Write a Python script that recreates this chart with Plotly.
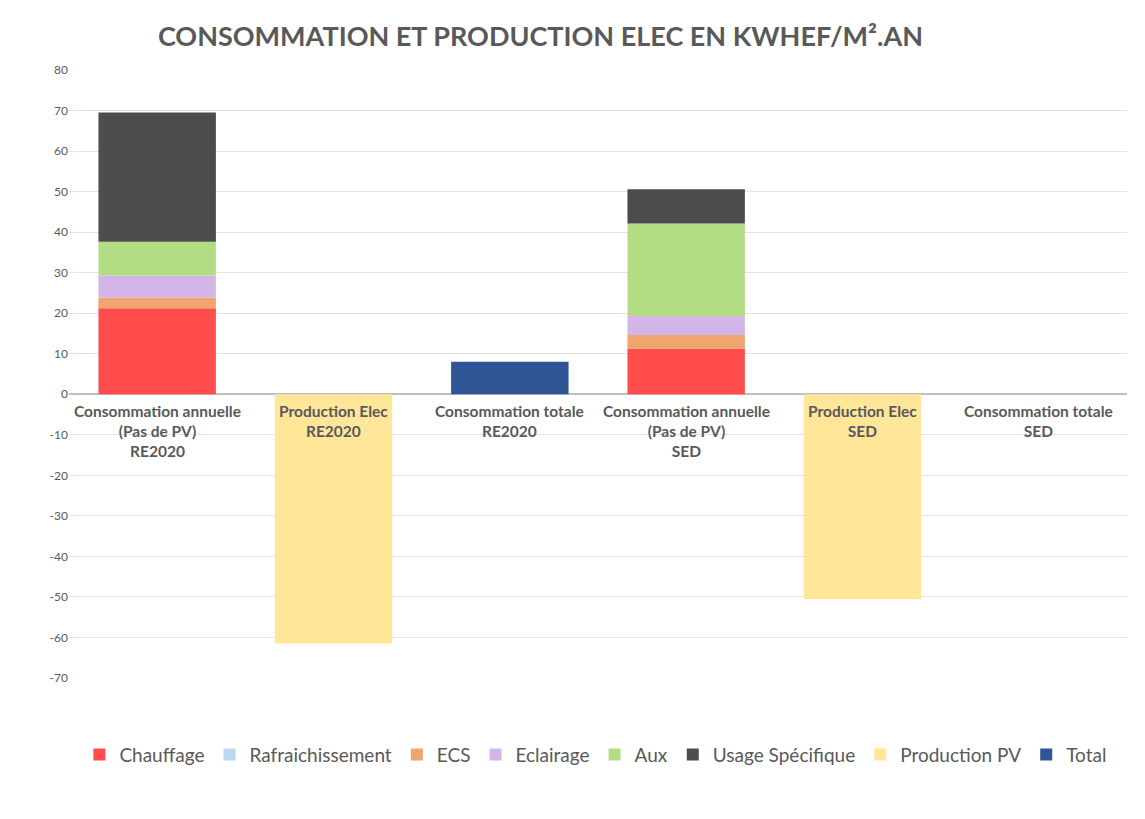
import plotly.graph_objects as go

categories = [
    "Consommation annuelle<br>(Pas de PV)<br>RE2020",
    "Production Elec<br>RE2020",
    "Consommation totale<br>RE2020",
    "Consommation annuelle<br>(Pas de PV)<br>SED",
    "Production Elec<br>SED",
    "Consommation totale<br>SED",
]
series_names = ["Chauffage", "Rafraichissement", "ECS", "Eclairage", "Aux",
                "Usage Spécifique", "Production PV", "Total"]
chauffage = [21.2, None, None, 11.3, None, None]
rafraichissement = [None, None, None, None, None, None]
ecs = [2.7, None, None, 3.3, None, None]
eclairage = [5.4, None, None, 4.7, None, None]
aux = [8.3, None, None, 22.8, None, None]
usage_specifique = [31.9, None, None, 8.5, None, None]
production_pv = [None, -61.5, None, None, -50.6, None]
total = [None, None, 8.0, None, None, 0.0]
y_ticks = [-70, -60, -50, -40, -30, -20, -10, 0, 10, 20, 30, 40, 50, 60, 70, 80]

values = [chauffage, rafraichissement, ecs, eclairage, aux, usage_specifique, production_pv, total]
colors = ["#ff4d4d", "#bdd7ee", "#f0a46e", "#d3b5e7", "#b3dd85", "#4d4d4d", "#ffe699", "#2f5597"]

FONT = "Lato, 'Open Sans', sans-serif"
GREY = "#595959"

fig = go.Figure()
for name, vals, col in zip(series_names, values, colors):
    fig.add_trace(go.Bar(
        x=list(range(len(categories))), y=vals, name=name,
        marker=dict(color=col, line=dict(width=0)),
    ))

for i, cat in enumerate(categories):
    fig.add_annotation(
        x=i, y=0, xref="x", yref="y", text="<b>" + cat + "</b>",
        showarrow=False, yanchor="top", yshift=-6,
        font=dict(family=FONT, size=15.5, color=GREY), align="center",
    )

fig.update_layout(
    barmode="relative",
    bargap=0.334,
    width=1145, height=819,
    margin=dict(l=69, r=18, t=70, b=141),
    paper_bgcolor="white", plot_bgcolor="white",
    font=dict(family=FONT, color=GREY),
    title=dict(
        text="<b>CONSOMMATION ET PRODUCTION ELEC EN KWHEF/M².AN</b>",
        x=0.472, xanchor="center", y=0.955, yanchor="middle",
        font=dict(family=FONT, size=27, color=GREY),
    ),
    legend=dict(
        orientation="h", x=0.498, xanchor="center", y=-0.095, yanchor="top",
        font=dict(family=FONT, size=19, color=GREY),
        itemwidth=30, tracegroupgap=0,
    ),
    showlegend=True,
)
fig.update_xaxes(
    range=[-0.5, len(categories) - 0.5], showticklabels=False, showgrid=False,
    zeroline=False, showline=False, ticks="",
)
fig.update_yaxes(
    range=[-70, 80], tickvals=y_ticks, ticktext=[str(v) for v in y_ticks],
    showgrid=True, gridcolor="#e3e3e3", gridwidth=1,
    zeroline=True, zerolinecolor="#bfbfbf", zerolinewidth=1.5,
    tickfont=dict(family=FONT, size=12, color=GREY), ticks="", showline=False,
)

fig.write_html("out.html", config={"displayModeBar": False},
               post_script="document.body.style.margin='0';")
